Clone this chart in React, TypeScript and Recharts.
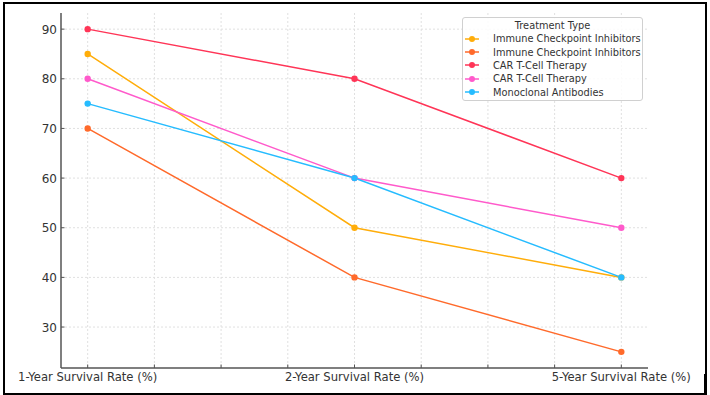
import { CartesianGrid, Line, LineChart, XAxis, YAxis } from 'recharts'

const categories = ['1-Year Survival Rate (%)', '2-Year Survival Rate (%)', '5-Year Survival Rate (%)']
const xTicks = [0, 0.25, 0.5, 0.75, 1, 1.25, 1.5, 1.75, 2]
const yTicks = [30, 40, 50, 60, 70, 80, 90]

const seriesNames = [
  'Immune Checkpoint Inhibitors',
  'Immune Checkpoint Inhibitors',
  'CAR T-Cell Therapy',
  'CAR T-Cell Therapy',
  'Monoclonal Antibodies',
]
const seriesColors = ['#ffad0a', '#ff6a2b', '#ff3557', '#ff5acb', '#26bcff']

const ici1 = [85, 50, 40]
const ici2 = [70, 40, 25]
const cart1 = [90, 80, 60]
const cart2 = [80, 60, 50]
const mab = [75, 60, 40]
const seriesValues = [ici1, ici2, cart1, cart2, mab]

const chartData = categories.map((c, i) => {
  const row: Record<string, number | string> = { x: i, name: c }
  seriesValues.forEach((vals, s) => {
    row[`s${s}`] = vals[i]
  })
  return row
})

const FONT = '"DejaVu Sans", sans-serif'
const AXIS = '#555'

function XTick(props: any) {
  const { x, y, payload } = props
  const v = payload.value as number
  const isCat = Number.isInteger(v)
  return (
    <g>
      <line x1={x} y1={y} x2={x} y2={y - 3.5} stroke={AXIS} strokeWidth={1} />
      {isCat && (
        <text x={x} y={y + 12.5} textAnchor="middle" fontSize={11.6} fill="#333" fontFamily={FONT}>
          {categories[v]}
        </text>
      )}
    </g>
  )
}

function YTick(props: any) {
  const { x, y, payload } = props
  return (
    <g>
      <line x1={x} y1={y} x2={x + 3.5} y2={y} stroke={AXIS} strokeWidth={1} />
      <text x={x - 4} y={y + 4.5} textAnchor="end" fontSize={12} fill="#333" fontFamily={FONT}>
        {payload.value}
      </text>
    </g>
  )
}

function LegendBox() {
  return (
    <div
      style={{
        position: 'absolute',
        left: 462,
        top: 17,
        width: 181,
        height: 84,
        border: '1px solid #d0d0d0',
        borderRadius: 3,
        background: 'rgba(255,255,255,0.85)',
        fontFamily: FONT,
        fontSize: 9.8,
        color: '#333',
        boxSizing: 'border-box',
        paddingTop: 1,
      }}
    >
      <div style={{ textAlign: 'center', height: 13, lineHeight: '13px' }}>Treatment Type</div>
      {seriesNames.map((n, i) => (
        <div key={i} style={{ display: 'flex', alignItems: 'center', height: 13.4 }}>
          <svg width={29} height={10} style={{ marginLeft: 1 }}>
            <line x1={1} y1={5} x2={15} y2={5} stroke={seriesColors[i]} strokeWidth={1.5} />
            <circle cx={8} cy={5} r={3} fill={seriesColors[i]} />
          </svg>
          <span style={{ whiteSpace: 'nowrap' }}>{n}</span>
        </div>
      ))}
    </div>
  )
}

export default function App() {
  return (
    <div style={{ position: 'absolute', left: 0, top: 0, width: 710, height: 395, background: '#fff' }}>
      <LineChart
        width={710}
        height={395}
        data={chartData}
        margin={{ top: 13, right: 62, bottom: 7, left: 11 }}
      >
        <CartesianGrid stroke="#e0e0e0" strokeDasharray="2 2" verticalValues={xTicks} horizontalValues={yTicks} />
        <XAxis
          dataKey="x"
          type="number"
          domain={[-0.1, 2.1]}
          ticks={xTicks}
          interval={0}
          stroke={AXIS}
          strokeWidth={1.5}
          tickSize={0}
          tickMargin={0}
          tickLine={false}
          height={20}
          tick={<XTick />}
        />
        <YAxis
          type="number"
          domain={[21.75, 93.25]}
          ticks={yTicks}
          interval={0}
          stroke={AXIS}
          strokeWidth={1.5}
          tickSize={0}
          tickMargin={0}
          tickLine={false}
          width={50}
          tick={<YTick />}
          allowDataOverflow
        />
        {seriesValues.map((_, s) => (
          <Line
            key={s}
            dataKey={`s${s}`}
            name={seriesNames[s]}
            stroke={seriesColors[s]}
            strokeWidth={1.5}
            dot={{ r: 3.2, fill: seriesColors[s], stroke: seriesColors[s], strokeWidth: 0 }}
            activeDot={false}
            isAnimationActive={false}
          />
        ))}
      </LineChart>
      <LegendBox />
      <div
        style={{
          position: 'absolute',
          left: 3,
          top: 2,
          width: 700,
          height: 389,
          border: '2px solid #000',
          pointerEvents: 'none',
        }}
      />
      <div style={{ position: 'absolute', left: 704, top: 374, width: 3, height: 19, background: '#000' }} />
    </div>
  )
}
